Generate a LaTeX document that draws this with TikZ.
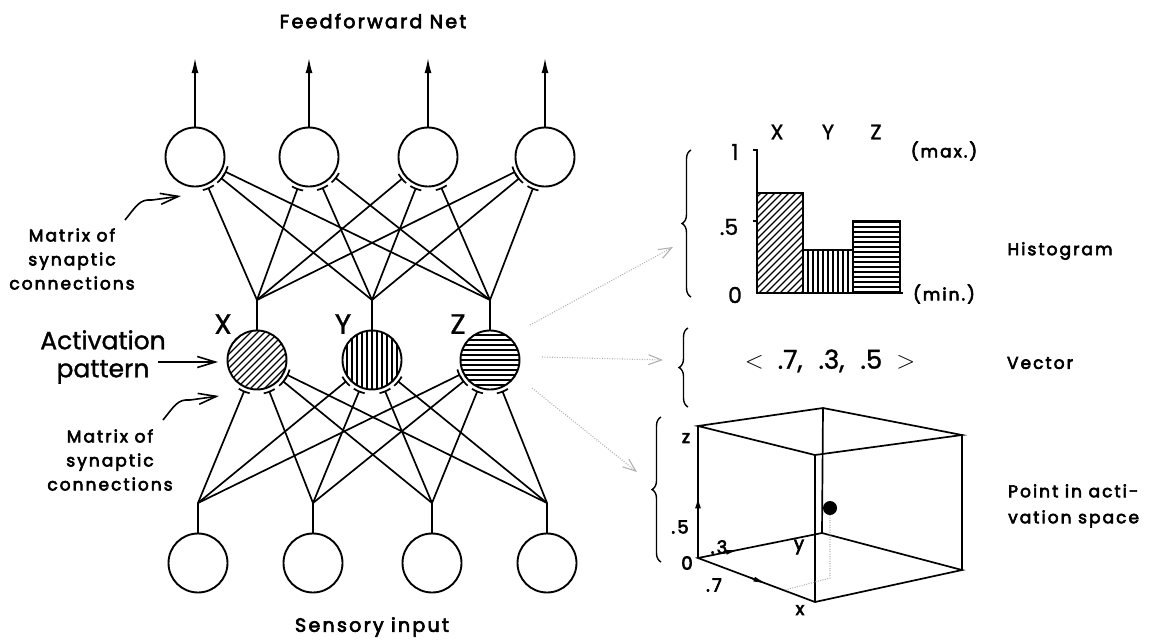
\documentclass[tikz,border=0pt]{standalone}
\usepackage{fontspec}
\setmainfont{Poppins}
\newfontfamily\bl[FakeBold=3.5,LetterSpace=12]{Poppins}
\newfontfamily\rg[FakeBold=1.2]{Poppins}
\usetikzlibrary{arrows.meta,calc,decorations.pathreplacing}
\newcommand\syn[2]{\draw[wire] let \p1=($(#1)-(#2)$), \n1={atan2(\y1,\x1)} in (#1) -- ($(#2)+(\n1:34)$) ($(#2)+(\n1-10:34)$) arc[start angle=\n1-10,end angle=\n1+10,radius=34];}
\begin{document}
\begin{tikzpicture}[x=1pt,y=1pt,
  neuron/.style={circle,draw,line width=1.9pt,minimum size=59pt,inner sep=0pt},
  wire/.style={line width=1.7pt},
  hatchD/.style={path picture={\foreach \i in {-90,-83,...,90} \draw[line width=1.2pt] ($(path picture bounding box.center)+(\i-60,-60)$) -- ++(120,120);}},
  hatchV/.style={path picture={\foreach \i in {-60,-55,...,60} \draw[line width=1.2pt] ($(path picture bounding box.center)+(\i,-60)$) -- ++(0,120);}},
  hatchH/.style={path picture={\foreach \i in {-60,-55,...,60} \draw[line width=1.2pt] ($(path picture bounding box.center)+(-60,\i)$) -- ++(120,0);}},
  lbl/.style={font=\bl\fontsize{17}{24}\selectfont,align=center,inner sep=0pt},
  big/.style={font=\rg\fontsize{25}{28}\selectfont,align=center,inner sep=0pt},
  pointer/.style={line width=1.6pt,-{Straight Barb[length=18pt,width=11pt,line width=1.6pt]}},
  outarrow/.style={wire,-{Latex[length=15pt,width=7pt]}},
  dots/.style={gray!60,line width=1.1pt,dash pattern=on 1pt off 1.5pt,-{Straight Barb[length=13pt,width=10pt]}},
  bracestyle/.style={line width=1.4pt,decorate,decoration={brace,amplitude=9pt}},
  edge/.style={line width=1.7pt},
  num/.style={font=\rg\fontsize{22}{22}\selectfont,inner sep=0pt},
  small/.style={font=\bl\fontsize{18}{18}\selectfont,inner sep=0pt}]
\useasboundingbox (0,0) rectangle (1171,-641);

% ---------- network nodes ----------
\node[neuron] (T1) at (195,-157) {};
\node[neuron] (T2) at (309,-157) {};
\node[neuron] (T3) at (428,-157) {};
\node[neuron] (T4) at (545,-157) {};
\node[neuron,hatchD] (X) at (257,-360) {};
\node[neuron,hatchV] (Y) at (372,-360) {};
\node[neuron,hatchH] (Z) at (490,-360) {};
\node[neuron] (B1) at (198,-563) {};
\node[neuron] (B2) at (313,-563) {};
\node[neuron] (B3) at (432,-563) {};
\node[neuron] (B4) at (547,-563) {};

\coordinate (Xj) at (257,-300);
\coordinate (Yj) at (372,-300);
\coordinate (Zj) at (490,-300);
\coordinate (B1j) at (198,-503);
\coordinate (B2j) at (313,-503);
\coordinate (B3j) at (432,-503);
\coordinate (B4j) at (547,-503);

\foreach \j/\n in {Xj/X,Yj/Y,Zj/Z,B1j/B1,B2j/B2,B3j/B3,B4j/B4} \draw[wire] (\j) -- (\n);

\foreach \b in {B1j,B2j,B3j,B4j} {\foreach \m in {X,Y,Z} {\syn{\b}{\m}}}
\foreach \m in {Xj,Yj,Zj} {\foreach \t in {T1,T2,T3,T4} {\syn{\m}{\t}}}

% outputs
\foreach \t/\x in {T1/195,T2/309,T3/428,T4/545} {
  \coordinate (o\t) at (\x,-58);
  \draw[outarrow] (\t) -- (o\t);
}

% ---------- labels ----------
\node[lbl,font=\bl\fontsize{19}{20}\selectfont] (title) at (373,-21) {Feedforward Net};
\node[lbl,font=\bl\fontsize{19}{20}\selectfont] (sens) at (372,-627) {Sensory input};

\node[lbl] (m1) at (72,-259) {Matrix of\\synaptic\\connections};
\node[lbl] (m2) at (110,-460) {Matrix of\\synaptic\\connections};
\node[big] (act) at (103,-357) {Activation\\pattern};

\node[font=\rg\fontsize{28}{28}\selectfont,inner sep=0pt] (lx) at (223,-324) {X};
\node[font=\rg\fontsize{28}{28}\selectfont,inner sep=0pt] (ly) at (343,-324) {Y};
\node[font=\rg\fontsize{28}{28}\selectfont,inner sep=0pt] (lz) at (458,-324) {Z};

\coordinate (a1s) at (125,-220); \coordinate (a1e) at (181,-196);
\draw[pointer] (a1s) .. controls (137,-205) and (140,-199) .. (152,-200) -- (a1e);
\coordinate (a2s) at (163,-420); \coordinate (a2e) at (219,-396);
\draw[pointer] (a2s) .. controls (175,-405) and (178,-399) .. (190,-400) -- (a2e);
\coordinate (a3s) at (158,-362); \coordinate (a3e) at (218,-362);
\draw[pointer] (a3s) -- (a3e);

% ---------- dotted arrows ----------
\coordinate (d1s) at (530,-325); \coordinate (d1e) at (673,-247);
\coordinate (d2s) at (542,-357); \coordinate (d2e) at (663,-360);
\coordinate (d3s) at (532,-388); \coordinate (d3e) at (637,-472);
\draw[dots] (d1s) -- (d1e);
\draw[dots] (d2s) -- (d2e);
\draw[dots] (d3s) -- (d3e);

% ---------- braces ----------
\draw[bracestyle] (691,-297) -- (691,-150);
\draw[bracestyle] (688,-407) -- (688,-328);
\draw[bracestyle] (661,-562) -- (661,-417);

% ---------- histogram ----------
\draw[edge,hatchD] (757,-193) rectangle (803,-293);
\draw[edge,hatchV] (803,-250) rectangle (853,-293);
\draw[edge,hatchH] (853,-221) rectangle (900,-293);
\draw[line width=1.9pt] (753,-150) -- (757,-150) -- (757,-293) -- (903,-293);
\draw[line width=1.6pt] (753,-221) -- (757,-221);
\node[num] (h1) at (735,-152) {1};
\node[num] (h5) at (729,-227) {.5};
\node[num] (h0) at (735,-295) {0};
\node[num,font=\rg\fontsize{21}{21}\selectfont] (hx) at (777,-132) {X};
\node[num,font=\rg\fontsize{21}{21}\selectfont] (hy) at (828,-132) {Y};
\node[num,font=\rg\fontsize{21}{21}\selectfont] (hz) at (876,-132) {Z};
\node[lbl,font=\bl\fontsize{17}{17}\selectfont] (max) at (944,-151) {(max.)};
\node[lbl,font=\bl\fontsize{17}{17}\selectfont] (min) at (944,-294) {(min.)};
\node[lbl,font=\bl\fontsize{17}{17}\selectfont] (hist) at (1060,-251) {Histogram};

% ---------- vector ----------
\node[font=\rg\fontsize{26}{26}\selectfont,inner sep=0pt] (vec) at (830,-361) {$<$\hspace{14pt}.7,\hspace{16pt}.3,\hspace{16pt}.5\hspace{14pt}$>$};
\node[lbl,font=\bl\fontsize{17}{17}\selectfont] (vlab) at (1040,-363) {Vector};

% ---------- cube ----------
\coordinate (O) at (698,-558);
\coordinate (Xe) at (815,-602);
\coordinate (Ye) at (822,-533);
\coordinate (XY) at (962,-570);
\coordinate (Ze) at (698,-426);
\coordinate (XZ) at (815,-455);
\coordinate (YZ) at (823,-408);
\coordinate (XYZ) at (962,-435);
\draw[edge] (O) -- (Xe) -- (XY) -- (Ye) -- cycle;
\draw[edge] (Ze) -- (XZ) -- (XYZ) -- (YZ) -- cycle;
\draw[edge] (O) -- (Ze) (Xe) -- (XZ) (Ye) -- (YZ) (XY) -- (XYZ);
\draw[line width=1.6pt,-{Latex[length=11pt,width=6pt]}] ($(O)!0.36!(Ze)$) -- ($(O)!0.46!(Ze)$);
\draw[line width=1.6pt,-{Latex[length=13pt,width=5pt]}] ($(O)!0.2!(Ye)$) -- ($(O)!0.33!(Ye)$);
\draw[line width=1.6pt,-{Latex[length=15pt,width=5pt]}] ($(O)!0.45!(Xe)$) -- ($(O)!0.6!(Xe)$);
\node[circle,fill,minimum size=14pt,inner sep=0pt] (P) at (830,-508) {};
\coordinate (Pp) at (830,-578);
\coordinate (Px) at (785,-590);
\draw[gray!60,line width=1.1pt,dash pattern=on 1pt off 1.4pt] (P) -- (Pp) -- (Px);
\node[small] (cz) at (686,-438) {z};
\node[small] (c5) at (680,-527) {.5};
\node[small] (c0) at (687,-563) {0};
\node[small] (c3) at (719,-547) {.3};
\node[small] (c7) at (714,-585) {.7};
\node[small] (cx) at (800,-610) {x};
\node[small] (cy) at (799,-547) {y};
\node[lbl,font=\bl\fontsize{17}{26}\selectfont,align=left,anchor=west] (pt) at (1008,-506) {Point in acti-\\vation space};
\end{tikzpicture}
\end{document}
